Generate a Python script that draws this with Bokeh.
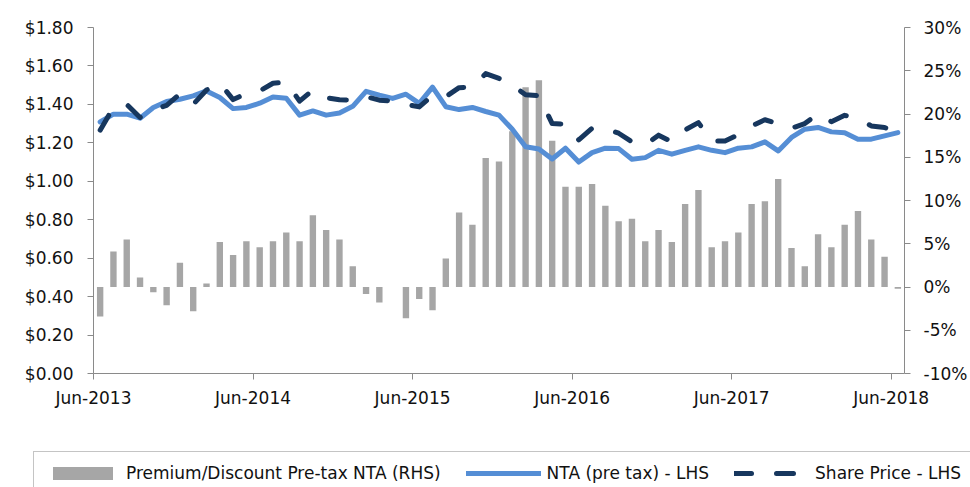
from bokeh.plotting import figure
from bokeh.models import (Range1d, LinearAxis, FixedTicker, NumeralTickFormatter,
                          PrintfTickFormatter, Legend, LegendItem, ColumnDataSource)
from bokeh.embed import file_html
from bokeh.resources import INLINE

# ---------------- data (monthly, Jun-2013 .. Jun-2018) ----------------
tick_labels = ["Jun-2013", "Jun-2014", "Jun-2015", "Jun-2016", "Jun-2017", "Jun-2018"]
tick_months = [0, 12, 24, 36, 48, 60]

premium_pct = [-3.4, 4.1, 5.5, 1.1, -0.6, -2.1, 2.8, -2.8, 0.4, 5.2,
               3.7, 5.3, 4.6, 5.3, 6.3, 5.3, 8.3, 6.6, 5.5, 2.4,
               -0.8, -1.8, 0.0, -3.6, -1.4, -2.7, 3.3, 8.6, 7.2, 14.9,
               14.5, 18.0, 23.1, 23.9, 16.9, 11.6, 11.6, 11.9, 9.4, 7.6,
               7.9, 5.3, 6.6, 5.2, 9.6, 11.2, 4.6, 5.3, 6.3, 9.6,
               9.9, 12.5, 4.5, 2.4, 6.1, 4.6, 7.2, 8.8, 5.5, 3.5,
               -0.2]

nta = [1.309, 1.349, 1.349, 1.328, 1.384, 1.415, 1.427, 1.444, 1.470, 1.436,
       1.378, 1.384, 1.406, 1.439, 1.432, 1.344, 1.366, 1.344, 1.355, 1.390,
       1.468, 1.448, 1.431, 1.453, 1.405, 1.490, 1.388, 1.373, 1.384, 1.363,
       1.344, 1.271, 1.180, 1.168, 1.116, 1.172, 1.100, 1.149, 1.172, 1.170,
       1.115, 1.123, 1.161, 1.141, 1.161, 1.179, 1.161, 1.149, 1.172, 1.179,
       1.205, 1.158, 1.228, 1.271, 1.280, 1.257, 1.253, 1.219, 1.219, 1.236,
       1.253]

share_price = [1.266, 1.385, 1.400, 1.332, 1.370, 1.395, 1.455, 1.400, 1.475, 1.510,
               1.425, 1.457, 1.470, 1.510, 1.515, 1.417, 1.474, 1.435, 1.424, 1.422,
               1.440, 1.422, 1.418, 1.400, 1.387, 1.447, 1.440, 1.487, 1.490, 1.560,
               1.535, 1.500, 1.450, 1.445, 1.300, 1.297, 1.215, 1.276, 1.274, 1.250,
               1.205, 1.189, 1.240, 1.205, 1.267, 1.305, 1.210, 1.210, 1.242, 1.288,
               1.320, 1.300, 1.276, 1.300, 1.352, 1.310, 1.343, 1.328, 1.288, 1.280,
               1.250]

series_names = ["Premium/Discount Pre-tax NTA (RHS)", "NTA (pre tax) - LHS", "Share Price - LHS"]

n = len(nta)
month_pos = [i + 0.5 for i in range(n)]   # category centres

src = ColumnDataSource(dict(x=month_pos, prem=premium_pct, nta=nta, sp=share_price))

FONT = "DejaVu Sans"
AXIS_COL = "#8a8a8a"
BAR_COL = "#A6A6A6"
NTA_COL = "#558ED5"
SP_COL = "#17375E"

p = figure(width=970, height=440, output_backend="svg", toolbar_location=None,
           x_range=Range1d(0, n), y_range=Range1d(0, 1.8),
           min_border_left=93, min_border_right=62, min_border_top=27, min_border_bottom=67)
p.outline_line_color = None
p.xgrid.grid_line_color = None
p.ygrid.grid_line_color = None
p.background_fill_color = "white"
p.border_fill_color = "white"

p.extra_y_ranges = {"pct": Range1d(-10, 30)}

p.vbar(x="x", top="prem", bottom=0, width=0.48, source=src, y_range_name="pct",
       fill_color=BAR_COL, line_color=None)
p.line("x", "nta", source=src, line_color=NTA_COL, line_width=5,
       line_join="round", line_cap="round")
p.line("x", "sp", source=src, line_color=SP_COL, line_width=5,
       line_dash="17 25", line_join="round", line_cap="round")

# axes
def style_axis(ax):
    ax.axis_line_color = AXIS_COL
    ax.major_tick_line_color = AXIS_COL
    ax.minor_tick_line_color = None
    ax.major_tick_in = 0
    ax.major_tick_out = 6
    ax.major_label_text_font = FONT
    ax.major_label_text_font_size = "17px"
    ax.major_label_text_color = "#111111"

xa = p.xaxis[0]
style_axis(xa)
xa.ticker = FixedTicker(ticks=tick_months)
xa.major_label_overrides = {m: lab for m, lab in zip(tick_months, tick_labels)}
xa.major_label_standoff = 8

ya = p.yaxis[0]
style_axis(ya)
ya.ticker = FixedTicker(ticks=[round(0.2 * k, 1) for k in range(10)])
ya.formatter = NumeralTickFormatter(format="$0.00")
ya.major_label_standoff = 14

ra = LinearAxis(y_range_name="pct")
style_axis(ra)
ra.ticker = FixedTicker(ticks=list(range(-10, 31, 5)))
ra.formatter = PrintfTickFormatter(format="%d%%")
ra.major_label_standoff = 13
p.add_layout(ra, "right")

# ---------------- legend strip (separate small figure underneath) ----------------
lg = figure(width=970, height=47, output_backend="svg", toolbar_location=None,
            x_range=Range1d(0, 1), y_range=Range1d(0, 1),
            x_axis_location=None, y_axis_location=None,
            min_border_left=0, min_border_right=0, min_border_top=0, min_border_bottom=0)
lg.xgrid.grid_line_color = None
lg.ygrid.grid_line_color = None
lg.outline_line_color = None
lg.background_fill_color = "white"
lg.border_fill_color = "white"

# legend key glyphs only (a single NaN point each, nothing is plotted)
nan = float("nan")
proxy_bar = lg.vbar(x=[nan], top=[nan], width=0.5, fill_color=BAR_COL, line_color=None)
proxy_nta = lg.line(x=[nan], y=[nan], line_color=NTA_COL, line_width=5, line_cap="round")
proxy_sp = lg.line(x=[nan], y=[nan], line_color=SP_COL, line_width=5, line_dash="17 25",
                   line_cap="round")

legend = Legend(items=[
    LegendItem(label=series_names[0], renderers=[proxy_bar]),
    LegendItem(label=series_names[1], renderers=[proxy_nta]),
    LegendItem(label=series_names[2], renderers=[proxy_sp]),
], orientation="horizontal", location=(33, -8),
    glyph_width=75, glyph_height=16, label_standoff=6, spacing=25, padding=11,
    label_text_font=FONT, label_text_font_size="17px", label_text_color="#111111",
    border_line_color="#8a8a8a", border_line_width=1, background_fill_color="white",
    margin=0)
lg.add_layout(legend)

# two independent roots, stacked by the page flow (no frame alignment between them)
open("out.html", "w").write(file_html([p, lg], INLINE))
